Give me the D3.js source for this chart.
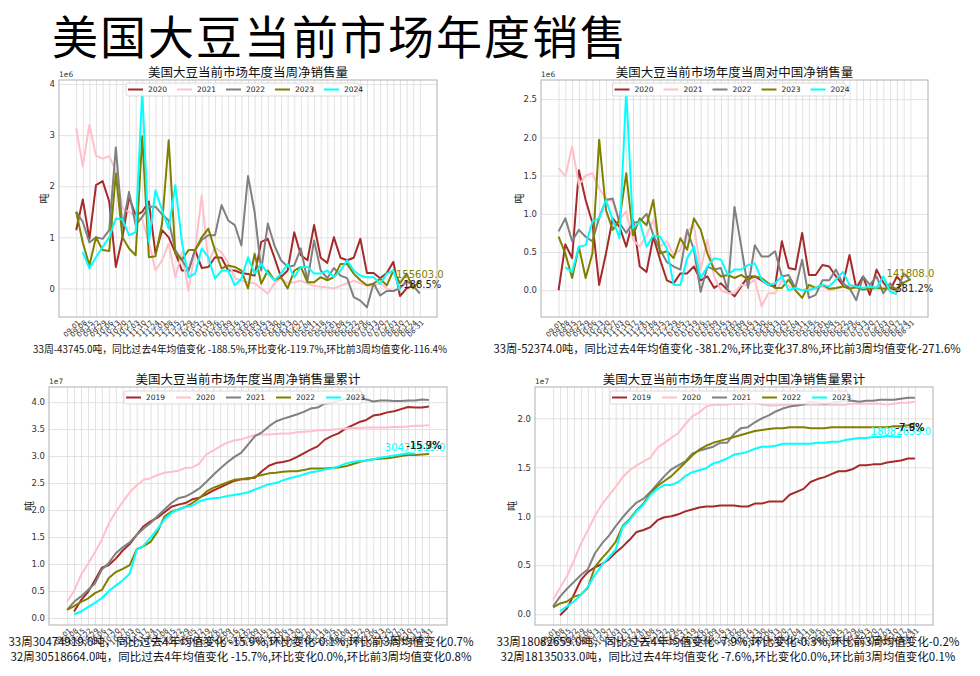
<!DOCTYPE html>
<html><head><meta charset="utf-8">
<script src="https://cdn.jsdelivr.net/npm/d3@7"></script>
<style>
body{margin:0;background:#fff;}
svg{display:block;font-family:"Noto Sans CJK SC","Noto Sans",sans-serif;}
</style>
</head><body>
<svg id="chart" width="980" height="676"></svg>
<script>
// ---------- data ----------
const weekLabels = ["09-01","09-08","09-15","09-22","09-29","10-06","10-13","10-20","10-27","11-03","11-10","11-17","11-24","12-01","12-08","12-15","12-22","12-29","01-05","01-12","01-19","01-26","02-02","02-09","02-16","02-23","03-02","03-09","03-16","03-23","03-30","04-06","04-13","04-20","04-27","05-04","05-11","05-18","05-25","06-01","06-08","06-15","06-22","06-29","07-06","07-13","07-20","07-27","08-03","08-10","08-17","08-24","08-31"];
const lineColors = ["#a52a2a","#ffc0cb","#808080","#808000","#00ffff"];
const topYears = ["2020","2021","2022","2023","2024"];
const bottomYears = ["2019","2020","2021","2022","2023"];

// 当周净销售量 (1e6 吨)
const tl2020 = [1.14,1.74,0.97,2.02,2.1,1.7,0.42,1.0,1.79,1.43,1.5,1.7,0.68,1.14,1.0,0.7,0.35,0.35,0.75,0.4,0.42,0.61,0.6,0.35,0.35,0.3,0.28,0.25,0.91,0.97,0.6,0.22,0.35,1.1,0.65,0.55,1.24,0.6,0.5,1.0,0.6,0.55,0.6,0.97,0.3,0.3,0.2,0.3,0.52,-0.15,0.0,0.05];
const tl2021 = [3.14,2.39,3.2,2.6,2.54,2.59,2.3,1.57,1.5,1.4,1.35,0.9,0.35,0.55,0.88,0.22,0.7,-0.05,0.75,1.82,0.5,0.8,0.7,0.5,0.2,0.15,0.12,0.1,0.0,-0.1,0.1,0.2,0.1,0.12,0.15,0.1,0.05,0.03,0.02,0.0,0.05,0.1,0.15,0.1,0.05,0.05,0.1,0.0,-0.05,0.02,0.1,0.12];
const tl2022 = [1.5,1.3,0.9,1.0,0.97,1.14,2.76,1.2,1.89,1.24,1.4,1.6,1.6,1.45,1.33,0.75,0.55,0.35,0.75,0.95,1.04,1.04,1.63,1.33,1.24,0.84,2.2,1.5,0.35,1.27,0.84,0.55,0.42,0.45,0.78,0.15,0.94,0.35,0.2,0.4,0.25,0.2,-0.17,-0.24,-0.37,0.1,-0.14,-0.05,-0.05,0.0,0.15,0.05,-0.1];
const tl2023 = [1.5,0.9,0.45,1.0,0.75,0.73,2.25,1.0,0.78,0.65,2.98,0.61,0.63,1.27,2.9,0.68,0.56,0.75,0.75,1.0,1.17,0.75,0.39,0.45,0.42,0.35,0.0,0.68,0.09,0.35,0.16,0.22,0.0,0.35,0.42,0.12,0.12,0.22,0.16,0.22,0.48,0.48,0.29,0.16,0.06,0.09,0.19,0.06,0.35,0.1,0.29,0.0,0.156];
const tl2024 = [null,0.71,0.39,0.61,0.81,1.0,1.37,1.35,1.04,1.1,3.88,0.91,1.92,1.53,1.17,2.02,0.9,0.22,0.29,0.78,0.61,0.19,0.35,0.35,0.06,0.19,0.61,0.29,0.48,0.29,0.16,0.29,0.48,0.22,0.42,0.42,0.29,0.29,0.35,0.22,0.35,0.55,0.35,0.25,0.22,0.22,0.09,0.29,0.35,-0.044];

// 当周对中国净销售量 (1e6 吨)
const tr2020 = [0.0,0.6,0.42,1.57,1.18,0.88,0.07,0.48,0.94,0.83,0.57,0.92,0.31,0.24,0.7,0.4,0.13,0.09,0.22,0.22,0.31,0.13,0.18,0.03,0.09,0.0,-0.08,0.05,0.18,0.18,0.13,0.07,0.05,0.64,0.29,0.27,0.75,0.2,0.2,0.33,0.31,0.18,0.07,0.46,0.03,0.18,-0.06,0.27,0.1,0.0,0.18,0.07];
const tr2021 = [1.6,1.49,1.88,1.38,1.5,1.53,1.33,1.2,1.16,0.92,1.03,0.66,0.57,0.72,0.92,0.57,0.64,0.46,0.53,0.77,0.85,0.27,0.66,0.18,0.0,-0.04,-0.04,0.07,0.07,0.14,-0.21,-0.04,-0.04,0.13,0.05,0.02,0.0,0.03,0.02,0.05,0.0,0.02,0.04,0.06,0.03,0.01,0.03,0.05,0.02,0.0,-0.02,0.04];
const tr2022 = [0.77,0.94,0.64,0.79,0.7,0.64,0.95,1.18,1.2,0.88,0.75,0.88,0.9,1.0,0.72,0.53,0.37,0.31,0.27,0.79,0.53,-0.02,0.31,0.27,0.29,0.0,1.09,0.57,0.03,0.59,0.44,0.44,0.51,0.18,0.2,0.03,0.4,-0.1,-0.06,0.13,0.13,0.27,0.09,0.03,-0.13,0.18,0.07,0.18,-0.04,0.09,-0.02,0.22,0.13];
const tr2023 = [0.7,0.48,0.16,0.57,0.16,0.48,1.97,1.05,0.79,0.92,1.53,0.72,0.94,0.85,1.18,0.48,0.51,0.42,0.68,0.53,0.94,0.79,0.48,0.27,0.18,0.2,0.16,0.2,0.14,0.18,0.16,0.09,0.03,0.03,0.14,0.0,-0.1,0.07,0.03,0.07,0.02,0.03,0.05,0.02,0.04,0.01,0.02,0.03,0.02,0.04,0.02,0.1,0.142];
const tr2024 = [null,0.3,0.24,0.57,0.59,0.9,0.94,1.18,0.92,0.68,2.62,0.81,0.9,0.57,0.72,0.7,0.55,0.07,0.07,0.42,0.57,0.16,0.31,0.42,0.4,0.2,0.27,0.27,0.33,0.35,0.14,0.07,0.09,0.18,0.0,0.03,0.0,0.0,0.03,0.07,0.05,0.14,0.24,0.07,0.05,0.03,0.05,0.03,0.18,-0.02,-0.052];

// 当周净销售量累计 (1e7 吨)
const bl2019 = [null,0.12,0.33,0.48,0.7,0.93,0.98,1.1,1.25,1.37,1.54,1.7,1.79,1.86,1.96,2.06,2.1,2.13,2.2,2.23,2.29,2.36,2.42,2.48,2.54,2.57,2.59,2.6,2.72,2.82,2.87,2.89,2.92,2.98,3.05,3.12,3.18,3.3,3.37,3.42,3.51,3.57,3.63,3.67,3.75,3.77,3.81,3.83,3.87,3.91,3.9,3.9,3.92];
const bl2020 = [0.3,0.5,0.8,1.0,1.22,1.45,1.75,1.97,2.15,2.33,2.46,2.56,2.59,2.65,2.69,2.71,2.73,2.78,2.79,2.86,3.03,3.1,3.18,3.25,3.29,3.31,3.35,3.39,3.4,3.4,3.41,3.42,3.42,3.44,3.45,3.46,3.48,3.48,3.49,3.5,3.51,3.52,3.52,3.53,3.53,3.53,3.53,3.54,3.54,3.55,3.56,3.56,3.57];
const bl2021 = [0.15,0.3,0.4,0.52,0.64,0.9,1.02,1.2,1.31,1.4,1.54,1.66,1.76,1.89,2.01,2.13,2.22,2.25,2.32,2.4,2.52,2.65,2.77,2.88,2.98,3.06,3.21,3.37,3.44,3.55,3.64,3.69,3.73,3.77,3.82,3.88,3.9,3.97,3.99,4.02,4.06,4.08,4.07,4.05,4.01,4.03,4.03,4.02,4.02,4.03,4.03,4.05,4.04];
const bl2022 = [0.15,0.22,0.3,0.36,0.46,0.52,0.74,0.85,0.91,0.98,1.27,1.33,1.41,1.6,1.88,1.97,2.01,2.06,2.13,2.22,2.34,2.41,2.46,2.51,2.56,2.57,2.57,2.62,2.65,2.68,2.69,2.71,2.72,2.72,2.74,2.77,2.77,2.77,2.78,2.79,2.81,2.85,2.89,2.92,2.94,2.95,2.96,2.98,3.0,3.02,3.02,3.03,3.04];
const bl2023 = [null,0.07,0.12,0.2,0.28,0.37,0.5,0.6,0.7,0.82,1.26,1.34,1.49,1.65,1.83,1.95,2.01,2.06,2.08,2.16,2.2,2.22,2.23,2.26,2.28,2.3,2.33,2.38,2.43,2.48,2.5,2.55,2.59,2.62,2.66,2.7,2.72,2.75,2.77,2.81,2.86,2.89,2.91,2.92,2.94,2.97,2.99,3.01,3.03,3.0519,3.0475];

// 当周对中国净销售量累计 (1e7 吨)
const br2019 = [null,-0.01,0.06,0.2,0.35,0.43,0.48,0.51,0.56,0.63,0.69,0.76,0.84,0.86,0.89,0.96,0.99,1.0,1.02,1.05,1.07,1.09,1.1,1.1,1.11,1.11,1.11,1.1,1.1,1.13,1.13,1.15,1.15,1.15,1.22,1.25,1.28,1.35,1.38,1.4,1.43,1.46,1.46,1.48,1.52,1.52,1.53,1.53,1.55,1.56,1.57,1.59,1.59];
const br2020 = [0.15,0.27,0.39,0.55,0.72,0.86,1.0,1.12,1.21,1.3,1.4,1.47,1.52,1.56,1.6,1.7,1.75,1.8,1.85,1.94,2.02,2.06,2.12,2.14,2.14,2.14,2.15,2.15,2.16,2.16,2.14,2.13,2.13,2.14,2.14,2.13,2.14,2.14,2.14,2.14,2.14,2.14,2.14,2.15,2.15,2.15,2.15,2.15,2.14,2.15,2.16,2.16,2.17];
const br2021 = [0.08,0.18,0.26,0.33,0.4,0.46,0.62,0.72,0.8,0.9,0.99,1.07,1.14,1.18,1.25,1.33,1.41,1.48,1.52,1.56,1.64,1.67,1.69,1.71,1.75,1.75,1.84,1.9,1.91,1.96,2.0,2.03,2.07,2.1,2.12,2.13,2.14,2.17,2.16,2.15,2.16,2.17,2.18,2.18,2.17,2.18,2.18,2.19,2.19,2.19,2.2,2.21,2.21];
const br2022 = [0.07,0.11,0.13,0.18,0.2,0.27,0.48,0.57,0.65,0.74,0.9,0.97,1.06,1.13,1.24,1.31,1.36,1.41,1.48,1.55,1.62,1.68,1.72,1.75,1.77,1.79,1.81,1.83,1.85,1.87,1.88,1.89,1.9,1.9,1.91,1.91,1.91,1.9,1.9,1.9,1.91,1.91,1.91,1.91,1.91,1.91,1.91,1.91,1.91,1.92,1.92,1.93,1.95];
const br2023 = [null,0.03,0.08,0.13,0.2,0.28,0.4,0.5,0.58,0.66,0.89,0.96,1.05,1.12,1.22,1.28,1.32,1.32,1.35,1.41,1.45,1.47,1.49,1.54,1.56,1.59,1.63,1.64,1.66,1.69,1.71,1.71,1.72,1.74,1.74,1.74,1.74,1.74,1.75,1.75,1.76,1.76,1.78,1.79,1.8,1.8,1.81,1.81,1.82,1.8135,1.8083];

const tlTicks = [0,1,2,3,4];
const trTicks = [0,0.5,1,1.5,2,2.5];
const blTicks = [0,0.5,1,1.5,2,2.5,3,3.5,4];
const brTicks = [0,0.5,1,1.5,2];

const tlNotes = [{t:"155603.0",i:52,v:0.156,c:"#808000"},{t:"-188.5%",i:52.1,v:-0.044,c:"#222"}];
const trNotes = [{t:"141808.0",i:52,v:0.142,c:"#808000"},{t:"-381.2%",i:52.3,v:-0.052,c:"#222"}];
const blNotes = [{t:"30474919.0",i:50,v:3.047,c:"#00ffff"},{t:"-15.9%",i:51.3,v:3.09,c:"#222"},{t:"-15.7%",i:51.3,v:3.09,c:"#222"}];
const brNotes = [{t:"18082659.0",i:50,v:1.808,c:"#00ffff"},{t:"-7.9%",i:51.3,v:1.85,c:"#222"},{t:"-7.6%",i:51.3,v:1.85,c:"#222"}];

const tlFooter = ["33周-43745.0吨，同比过去4年均值变化 -188.5%,环比变化-119.7%,环比前3周均值变化-116.4%"];
const trFooter = ["33周-52374.0吨，同比过去4年均值变化 -381.2%,环比变化37.8%,环比前3周均值变化-271.6%"];
const blFooter = ["33周30474919.0吨，同比过去4年均值变化 -15.9%,环比变化-0.1%,环比前3周均值变化0.7%","32周30518664.0吨，同比过去4年均值变化 -15.7%,环比变化0.0%,环比前3周均值变化0.8%"];
const brFooter = ["33周18082659.0吨，同比过去4年均值变化 -7.9%,环比变化-0.3%,环比前3周均值变化-0.2%","32周18135033.0吨，同比过去4年均值变化 -7.6%,环比变化0.0%,环比前3周均值变化0.1%"];

// ---------- drawing ----------
const svg = d3.select("#chart");
svg.append("rect").attr("width",980).attr("height",676).attr("fill","#fff");
svg.append("text").attr("x",52).attr("y",54).attr("font-size",46).attr("letter-spacing",2).attr("fill","#000")
  .text("美国大豆当前市场年度销售");

const N = weekLabels.length;

const panels = [
  {x0:59,x1:437,y0:80,y1:317,dom:[-0.56,4.08],ticks:tlTicks,fmt:d3.format("d"),exp:"1e6",
   title:"美国大豆当前市场年度当周净销售量",years:topYears,series:[tl2020,tl2021,tl2022,tl2023,tl2024],
   notes:tlNotes,footer:tlFooter,fy:[353],ffs:9.8,fcx:240,lgY:83,lgSp:49,ylab:45},
  {x0:541,x1:928,y0:80,y1:317,dom:[-0.35,2.75],ticks:trTicks,fmt:d3.format(".1f"),exp:"1e6",
   title:"美国大豆当前市场年度当周对中国净销售量",years:topYears,series:[tr2020,tr2021,tr2022,tr2023,tr2024],
   notes:trNotes,footer:trFooter,fy:[353],ffs:11.3,fcx:727,lgY:83,lgSp:49,ylab:520},
  {x0:49,x1:447,y0:387,y1:625,dom:[-0.13,4.28],ticks:blTicks,fmt:d3.format(".1f"),exp:"1e7",
   title:"美国大豆当前市场年度当周净销售量累计",years:bottomYears,series:[bl2019,bl2020,bl2021,bl2022,bl2023],
   notes:blNotes,footer:blFooter,fy:[646,661],ffs:11.5,fcx:241,lgY:391,lgSp:50,ylab:30},
  {x0:535,x1:933,y0:387,y1:625,dom:[-0.11,2.32],ticks:brTicks,fmt:d3.format(".1f"),exp:"1e7",
   title:"美国大豆当前市场年度当周对中国净销售量累计",years:bottomYears,series:[br2019,br2020,br2021,br2022,br2023],
   notes:brNotes,footer:brFooter,fy:[646,661],ffs:11.5,fcx:728,lgY:391,lgSp:50,ylab:513}
];

panels.forEach(p => {
  const g = svg.append("g");
  const W = p.x1 - p.x0, H = p.y1 - p.y0;
  const x = d3.scaleLinear().domain([-0.05*(N-1), (N-1)*1.05]).range([p.x0, p.x1]);
  const y = d3.scaleLinear().domain(p.dom).range([p.y1, p.y0]);

  const gx = g.append("g").attr("transform",`translate(0,${p.y1})`)
    .call(d3.axisBottom(x).tickValues(d3.range(N)).tickSize(-H).tickFormat(""));
  gx.select(".domain").remove();
  gx.selectAll(".tick line").attr("stroke","#dadada").attr("stroke-width",0.8);

  const gy = g.append("g").attr("transform",`translate(${p.x0},0)`)
    .call(d3.axisLeft(y).tickValues(p.ticks).tickFormat(p.fmt).tickSize(-W).tickPadding(4));
  gy.select(".domain").remove();
  gy.selectAll(".tick line").attr("stroke","#dadada").attr("stroke-width",0.8);
  gy.selectAll(".tick text").attr("font-size",8.5).attr("fill","#333")
    .attr("font-family","'DejaVu Sans','Noto Sans',sans-serif");

  g.append("rect").attr("x",p.x0).attr("y",p.y0).attr("width",W).attr("height",H)
    .attr("fill","none").attr("stroke","#b0b0b0").attr("stroke-width",1);

  const xl = g.append("g").attr("transform",`translate(0,${p.y1})`)
    .call(d3.axisBottom(x).tickValues(d3.range(N)).tickSize(0).tickFormat(i=>weekLabels[i]));
  xl.select(".domain").remove();
  xl.selectAll(".tick text").attr("font-size",7).attr("fill","#333")
    .attr("text-anchor","end").attr("dy",null).attr("y",0)
    .attr("transform","translate(4,6) rotate(-45)")
    .attr("font-family","'DejaVu Sans','Noto Sans',sans-serif");

  g.append("text").attr("x",p.x0).attr("y",p.y0-3).attr("font-size",7.5).attr("fill","#333")
    .attr("font-family","'DejaVu Sans',sans-serif").text(p.exp);

  g.append("text").attr("transform",`translate(${p.ylab},${(p.y0+p.y1)/2}) rotate(-90)`)
    .attr("text-anchor","middle").attr("dominant-baseline","middle").attr("font-size",10).attr("fill","#222").text("吨");

  g.append("text").attr("x",(p.x0+p.x1)/2).attr("y",p.y0-3.5).attr("text-anchor","middle")
    .attr("font-size",12.5).attr("fill","#111").text(p.title);

  const clipId = "clip"+p.x0+"_"+p.y0;
  svg.append("clipPath").attr("id",clipId).append("rect").attr("x",p.x0).attr("y",p.y0).attr("width",W).attr("height",H);
  const lg = g.append("g").attr("clip-path",`url(#${clipId})`);
  const line = d3.line().defined(d => d !== null).x((d,i) => x(i)).y(d => y(d));
  p.series.forEach((s,k) => {
    lg.append("path").attr("d", line(s)).attr("fill","none").attr("stroke",lineColors[k])
      .attr("stroke-width",2).attr("stroke-linejoin","round");
  });

  p.notes.forEach(n => {
    g.append("text").attr("x",x(n.i)).attr("y",y(n.v)-2.5).attr("text-anchor","middle")
      .attr("font-size",10).attr("fill",n.c).attr("font-family","'DejaVu Sans',sans-serif").text(n.t);
  });

  const cx = (p.x0+p.x1)/2;
  const first = cx - 2*p.lgSp - 22;
  const lgG = g.append("g");
  lgG.append("rect").attr("x",first-2).attr("y",p.lgY).attr("width",5*p.lgSp-12).attr("height",13)
    .attr("rx",2).attr("fill","#fff").attr("fill-opacity",0.85).attr("stroke","#d0d0d0").attr("stroke-width",0.8);
  p.years.forEach((yr,k) => {
    const lx = first + k*p.lgSp;
    lgG.append("line").attr("x1",lx).attr("x2",lx+15).attr("y1",p.lgY+6.5).attr("y2",p.lgY+6.5)
      .attr("stroke",lineColors[k]).attr("stroke-width",2);
    lgG.append("text").attr("x",lx+20).attr("y",p.lgY+9.3).attr("font-size",7.5).attr("fill","#222")
      .attr("font-family","'DejaVu Sans',sans-serif").text(yr);
  });

  p.footer.forEach((t,k) => {
    svg.append("text").attr("x",p.fcx).attr("y",p.fy[k]).attr("text-anchor","middle")
      .attr("font-size",p.ffs).attr("fill","#111").text(t);
  });
});
</script>
</body></html>
